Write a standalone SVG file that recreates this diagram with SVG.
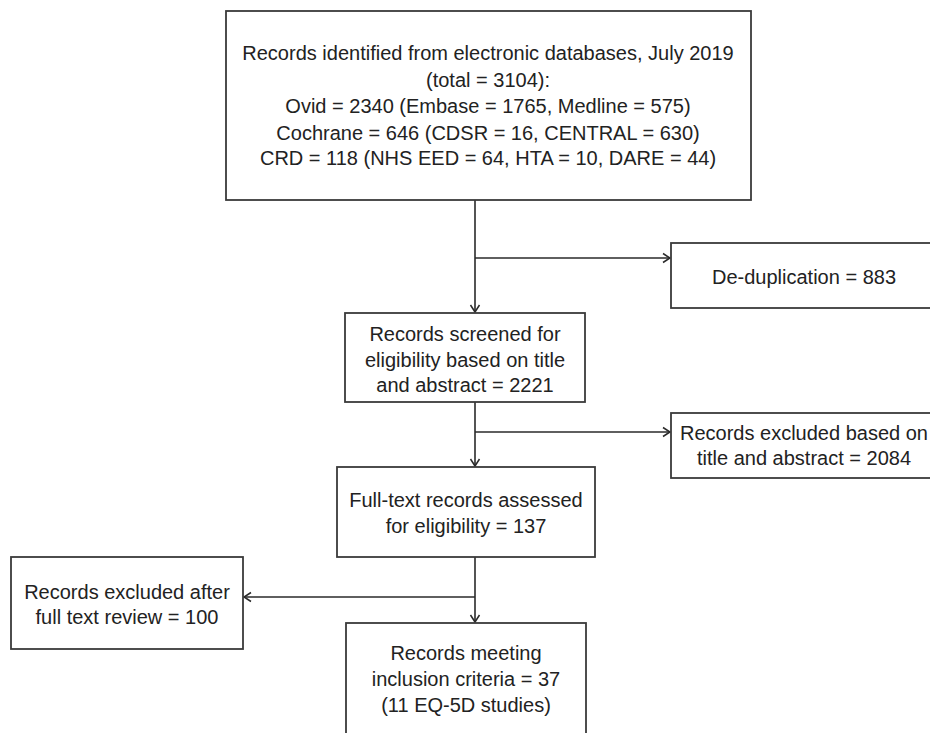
<svg xmlns="http://www.w3.org/2000/svg" width="930" height="733" viewBox="0 0 930 733">
<style>
.box{fill:#fff;stroke:#3a3a3a;stroke-width:1.8}
.con{fill:none;stroke:#2a2a2a;stroke-width:1.6}
text{font-family:"Liberation Sans",Arial,sans-serif;font-size:20px;fill:#222;text-anchor:middle}
</style>
<defs>
<marker id="arr" markerWidth="12" markerHeight="12" refX="10" refY="6" orient="auto" markerUnits="userSpaceOnUse">
<path d="M3,1.5 L10,6 L3,10.5" fill="none" stroke="#2a2a2a" stroke-width="1.5"/>
</marker>
</defs>
<rect width="930" height="733" fill="#fff"/>
<g id="connectors">
<line class="con" x1="475" y1="200" x2="475" y2="312" marker-end="url(#arr)"/>
<line class="con" x1="475" y1="258" x2="670" y2="258" marker-end="url(#arr)"/>
<line class="con" x1="475" y1="402" x2="475" y2="466" marker-end="url(#arr)"/>
<line class="con" x1="475" y1="432" x2="670" y2="432" marker-end="url(#arr)"/>
<line class="con" x1="475" y1="557" x2="475" y2="622" marker-end="url(#arr)"/>
<line class="con" x1="475" y1="597" x2="244" y2="597" marker-end="url(#arr)"/>
</g>
<g id="identified">
<rect class="box" x="226" y="11" width="525" height="189"/>
<text x="488" y="60">Records identified from electronic databases, July 2019</text>
<text x="488" y="87">(total = 3104):</text>
<text x="488" y="113">Ovid = 2340 (Embase = 1765, Medline = 575)</text>
<text x="488" y="140">Cochrane = 646 (CDSR = 16, CENTRAL = 630)</text>
<text x="488" y="165">CRD = 118 (NHS EED = 64, HTA = 10, DARE = 44)</text>
</g>
<g id="dedup">
<rect class="box" x="671" y="243" width="266" height="65"/>
<text x="804" y="284">De-duplication = 883</text>
</g>
<g id="screened">
<rect class="box" x="345" y="313" width="240" height="89"/>
<text x="465" y="341">Records screened for</text>
<text x="465" y="367">eligibility based on title</text>
<text x="465" y="392">and abstract = 2221</text>
</g>
<g id="excluded-title">
<rect class="box" x="671" y="413" width="266" height="65"/>
<text x="804" y="440">Records excluded based on</text>
<text x="804" y="465">title and abstract = 2084</text>
</g>
<g id="fulltext">
<rect class="box" x="337" y="467" width="258" height="90"/>
<text x="466" y="507">Full-text records assessed</text>
<text x="466" y="533">for eligibility = 137</text>
</g>
<g id="excluded-full">
<rect class="box" x="11" y="557" width="232" height="92"/>
<text x="127" y="599">Records excluded after</text>
<text x="127" y="624">full text review = 100</text>
</g>
<g id="included">
<rect class="box" x="346" y="623" width="240" height="125"/>
<text x="466" y="660">Records meeting</text>
<text x="466" y="686">inclusion criteria = 37</text>
<text x="466" y="712">(11 EQ-5D studies)</text>
</g>
</svg>
